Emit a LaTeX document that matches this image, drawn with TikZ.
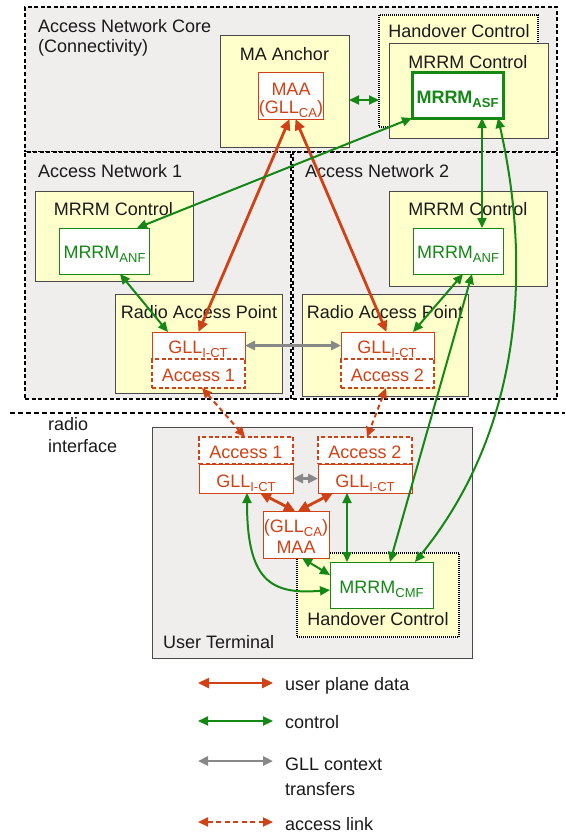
\documentclass[tikz,border=0pt]{standalone}
\usepackage{fontspec}
\setmainfont{Liberation Sans}
\usetikzlibrary{arrows.meta,fit}
\definecolor{bggray}{HTML}{EFEEED}
\definecolor{lyellow}{HTML}{FFFFCC}
\definecolor{boxgray}{HTML}{4A4A4A}
\definecolor{myred}{RGB}{208,66,22}
\definecolor{mygreen}{RGB}{20,135,20}
\definecolor{ctxgray}{HTML}{888888}
\definecolor{txt}{HTML}{1A1A1A}
\newcommand\mysub[1]{\raisebox{-4.5pt}{\fontsize{13}{13}\selectfont #1}}
\tikzset{
  area/.style={draw=black, fill=bggray, line width=1.4pt, dash pattern=on 4pt off 2.5pt, inner sep=0pt, outer sep=0pt},
  ybox/.style={draw=boxgray, fill=lyellow, line width=0.9pt, inner sep=0pt, outer sep=0pt},
  hcbox/.style={draw=black, fill=lyellow, line width=1.3pt, dash pattern=on 1pt off 1pt, inner sep=0pt, outer sep=0pt},
  utbox/.style={draw=boxgray, fill=bggray, line width=0.9pt, inner sep=0pt, outer sep=0pt},
  rbox/.style={draw=myred, fill=white, line width=1pt, inner sep=0pt, outer sep=0pt},
  rdbox/.style={draw=myred, fill=white, line width=1.8pt, dash pattern=on 4pt off 2.5pt, inner sep=0pt, outer sep=0pt},
  gbox/.style={draw=mygreen, fill=white, line width=1pt, inner sep=0pt, outer sep=0pt},
  gthick/.style={draw=mygreen, fill=white, line width=3pt, inner sep=0pt, outer sep=0pt},
  lbl/.style={anchor=base, inner sep=0pt, text=txt},
  lbll/.style={anchor=base west, inner sep=0pt, text=txt},
  rlbl/.style={anchor=base, inner sep=0pt, text=myred},
  glbl/.style={anchor=base, inner sep=0pt, text=mygreen},
  data/.style={draw=myred, line width=2.8pt, >={Triangle[length=11pt,width=10pt]}, <->},
  ctrl/.style={draw=mygreen, line width=2pt, >={Triangle[length=10pt,width=9pt]}, <->},
  ctx/.style={draw=ctxgray, line width=2.6pt, >={Triangle[length=10pt,width=9pt]}, <->},
  acclink/.style={draw=myred, line width=2pt, dash pattern=on 5pt off 3.5pt, >={Triangle[length=10pt,width=9pt]}, <->},
}
\begin{document}
\begin{tikzpicture}[x=1pt, y=-1pt, font=\fontsize{18}{21}\selectfont]
\useasboundingbox (0,0) rectangle (565,838);

% network areas
\node (core) [area, fit={(25,7) (557,152)}] {};
\node (an1) [area, fit={(25,152) (291,399)}] {};
\node (an2) [area, fit={(293,152) (557,399)}] {};
\node (tcore1) [lbll] at (38,32) {Access Network Core};
\node (tcore2) [lbll] at (38,52) {(Connectivity)};
\node (tan1) [lbll] at (38,177) {Access Network 1};
\node (tan2) [lbll] at (305,177) {Access Network 2};

% core: MA anchor
\node (maanchor) [ybox, fit={(220,35) (349,147)}] {};
\node (tmaanchor) [lbl] at (284.5,60) {MA Anchor};
\node (maa) [rbox, fit={(258,72) (323,119)}] {};
\node (tmaa1) [rlbl] at (291,95) {MAA};
\node (tmaa2) [rlbl] at (291,113) {(GLL\mysub{CA})};

% core: handover control / MRRM control
\node (hctop) [hcbox, fit={(379,15) (538,127)}] {};
\node (thctop) [lbl] at (459,37) {Handover Control};
\node (mctop) [ybox, fit={(389,43) (548,138)}] {};
\node (tmctop) [lbl] at (468,68) {MRRM Control};
\node (asf) [gthick, fit={(412,72) (503,118)}] {};
\node (tasf) [glbl] at (457.5,103) {\bfseries MRRM\raisebox{-4.5pt}{\fontsize{13}{13}\selectfont\bfseries ASF}};

% access network 1
\node (mc1) [ybox, fit={(35,191) (193,281)}] {};
\node (tmc1) [lbl] at (113.5,215) {MRRM Control};
\node (anf1) [gbox, fit={(59,228) (149,274)}] {};
\node (tanf1) [glbl] at (104.5,258) {MRRM\mysub{ANF}};
\node (rap1) [ybox, fit={(115,294) (282,393)}] {};
\node (trap1) [lbl] at (199,318) {Radio Access Point};
\node (gll1) [rbox, fit={(152,332) (245,359)}] {};
\node (tgll1) [rlbl] at (198,353) {GLL\mysub{I-CT}};
\node (acc1) [rdbox, fit={(152,359) (245,388)}] {};
\node (tacc1) [rlbl] at (198.5,381) {Access 1};

% access network 2
\node (mc2) [ybox, fit={(389,191) (547,286)}] {};
\node (tmc2) [lbl] at (468,215) {MRRM Control};
\node (anf2) [gbox, fit={(413,228) (503,274)}] {};
\node (tanf2) [glbl] at (458,258) {MRRM\mysub{ANF}};
\node (rap2) [ybox, fit={(302,294) (468,396)}] {};
\node (trap2) [lbl] at (385,318) {Radio Access Point};
\node (gll2) [rbox, fit={(341,332) (434,359)}] {};
\node (tgll2) [rlbl] at (387,353) {GLL\mysub{I-CT}};
\node (acc2) [rdbox, fit={(341,359) (434,388)}] {};
\node (tacc2) [rlbl] at (387.5,381) {Access 2};

% radio interface
\coordinate (riL) at (10,413);
\coordinate (riR) at (565,413);
\draw[line width=1.4pt, dash pattern=on 5pt off 3pt] (riL) -- (riR);
\node (tri1) [lbll] at (48,430) {radio};
\node (tri2) [lbll] at (48,452) {interface};

% user terminal
\node (ut) [utbox, fit={(152,427) (472,658)}] {};
\node (tut) [lbll] at (163,648) {User Terminal};
\node (hcut) [hcbox, fit={(297,553) (459,637)}] {};
\node (thcut) [lbl] at (378,625) {Handover Control};
\node (cmf) [gbox, fit={(330,562) (433,608)}] {};
\node (tcmf) [glbl] at (381.5,593) {MRRM\mysub{CMF}};
\node (uacc1) [rdbox, fit={(199,437) (293,464)}] {};
\node (tuacc1) [rlbl] at (246,458) {Access 1};
\node (ugll1) [rbox, fit={(199,464) (293,493)}] {};
\node (tugll1) [rlbl] at (246,487) {GLL\mysub{I-CT}};
\node (uacc2) [rdbox, fit={(318,437) (412,464)}] {};
\node (tuacc2) [rlbl] at (365,458) {Access 2};
\node (ugll2) [rbox, fit={(318,464) (412,493)}] {};
\node (tugll2) [rlbl] at (365,487) {GLL\mysub{I-CT}};
\node (umaa) [rbox, fit={(263,511) (329,558)}] {};
\node (tumaa1) [rlbl] at (296,532) {(GLL\mysub{CA})};
\node (tumaa2) [rlbl] at (296,553) {MAA};

% user plane data
\draw[data] ([xshift=-1pt]maa.south) -- (gll1.north);
\draw[data] ([xshift=5pt]maa.south) -- ([xshift=-1pt]gll2.north);
\draw[data] ([xshift=14pt]ugll1.south) -- ([xshift=-1pt]umaa.north);
\draw[data] ([xshift=-32pt]ugll2.south) -- ([xshift=2pt]umaa.north);

% control (y grows downwards, so a downward shift is a negative yshift)
\draw[ctrl] ([yshift=-9pt]maanchor.east) -- ([yshift=-29pt]hctop.west);
\draw[ctrl] (asf.south west) -- ([xshift=33pt]anf1.north);
\draw[ctrl] ([xshift=24.5pt]asf.south) -- ([xshift=24pt]anf2.north);
\draw[ctrl] ([xshift=40.5pt]asf.south) .. controls (528,250) and (530,420) .. ([xshift=33.5pt]cmf.north);
\draw[ctrl] ([xshift=14pt]anf2.south) -- ([xshift=8.5pt]cmf.north);
\draw[ctrl] ([xshift=5pt]anf2.south) -- ([xshift=25.5pt]gll2.north);
\draw[ctrl] ([xshift=16pt]anf1.south) -- ([xshift=-30.5pt]gll1.north);
\draw[ctrl] ([xshift=-18pt]ugll2.south) -- ([xshift=-34.5pt]cmf.north);
\draw[ctrl] ([xshift=6pt]umaa.south) -- ([yshift=10pt]cmf.west);
\draw[ctrl] ([xshift=1pt]ugll1.south) .. controls (247,580) and (270,595) .. ([yshift=-5pt]cmf.west);

% GLL context transfers
\draw[ctx] (gll1.east) -- (gll2.west);
\draw[ctx] (ugll1.east) -- (ugll2.west);

% access links
\draw[acclink] ([xshift=3.5pt]acc1.south) -- ([xshift=-1pt]uacc1.north);
\draw[acclink] ([xshift=-1.5pt]acc2.south) -- ([xshift=2pt]uacc2.north);

% legend
\coordinate (l1a) at (198,683); \coordinate (l1b) at (273,683);
\coordinate (l2a) at (198,721); \coordinate (l2b) at (273,721);
\coordinate (l3a) at (198,761); \coordinate (l3b) at (273,761);
\coordinate (l4a) at (198,822); \coordinate (l4b) at (273,822);
\draw[data, line width=2.4pt] (l1a) -- (l1b);
\draw[ctrl] (l2a) -- (l2b);
\draw[ctx] (l3a) -- (l3b);
\draw[acclink] (l4a) -- (l4b);
\node (tl1) [lbll] at (285,690) {user plane data};
\node (tl2) [lbll] at (285,728) {control};
\node (tl3a) [lbll] at (285,770) {GLL context};
\node (tl3b) [lbll] at (285,795) {transfers};
\node (tl4) [lbll] at (285,830) {access link};
\end{tikzpicture}
\end{document}
